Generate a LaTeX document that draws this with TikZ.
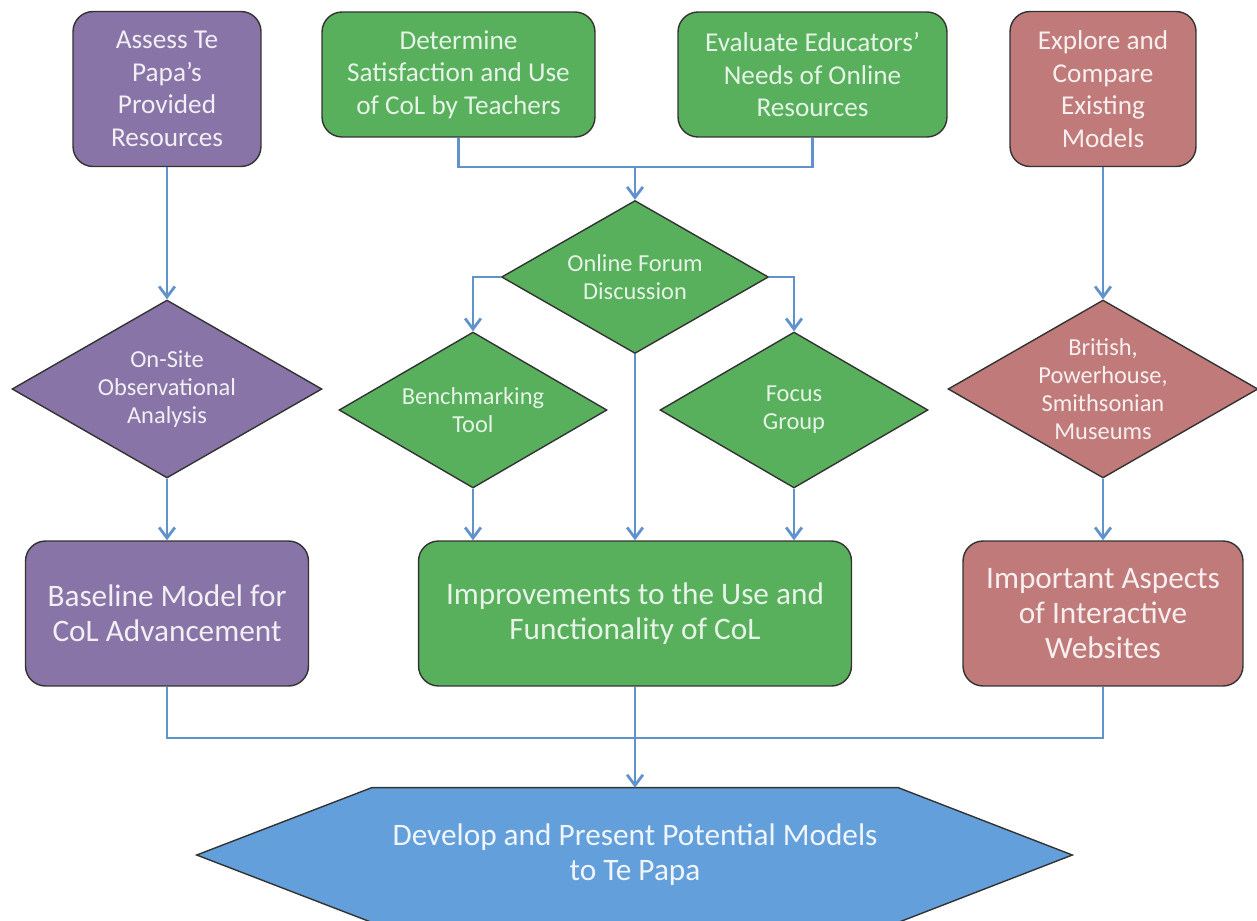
\documentclass[tikz,border=0pt]{standalone}
\usepackage{fontspec}
\setmainfont{Carlito}
\usetikzlibrary{calc,shapes.geometric,arrows.meta}
\definecolor{purp}{RGB}{136,116,166}
\definecolor{grn}{RGB}{88,176,92}
\definecolor{rd}{RGB}{192,122,122}
\definecolor{hexblue}{RGB}{99,159,219}
\definecolor{linkblue}{RGB}{96,146,206}
\begin{document}
\begin{tikzpicture}[x=0.02cm,y=-0.02cm,
		box/.style={draw=black!80,line width=0.8pt,rounded corners=0.4cm,align=center,inner sep=0pt,font=\fontsize{15.5}{18.5}\selectfont},
		bigbox/.style={box,font=\fontsize{17.8}{20}\selectfont},
		dia/.style={draw=black!80,line width=0.8pt,diamond,aspect=1.74,align=center,inner sep=0pt,font=\fontsize{13.9}{16}\selectfont},
		pu/.style={fill=purp,text=purp!12!white},
		gr/.style={fill=grn,text=grn!15!white},
		re/.style={fill=rd,text=rd!12!white},
		link/.style={draw=linkblue,line width=1.6pt},
		arr/.style={link,-{Straight Barb[length=6pt,width=9pt]}}]
				\useasboundingbox (0,0) rectangle (1257,920);
				
				\node[box,pu,minimum width=3.76cm,minimum height=3.1cm] (assess) at (167,89) {Assess Te\\Papa’s\\Provided\\Resources};
				\node[box,gr,minimum width=5.46cm,minimum height=2.5cm] (determine) at (458.5,74.5) {Determine\\Satisfaction and Use\\of CoL by Teachers};
				\node[box,gr,minimum width=5.38cm,minimum height=2.5cm] (evaluate) at (812.5,74.5) {Evaluate Educators’\\Needs of Online\\Resources};
				\node[box,re,minimum width=3.72cm,minimum height=3.1cm] (explore) at (1103,89) {Explore and\\Compare\\Existing\\Models};
				
				\node[dia,pu,minimum width=6.2cm,minimum height=3.56cm] (onsite) at (167,389) {On-Site\\Observational\\Analysis};
				\node[dia,gr,minimum width=5.34cm,minimum height=3.06cm] (forum) at (635,277) {Online Forum\\Discussion};
				\node[dia,gr,minimum width=5.36cm,minimum height=3.12cm] (bench) at (473,410) {Benchmarking\\Tool};
				\node[dia,gr,minimum width=5.36cm,minimum height=3.12cm] (focus) at (794,410) {Focus\\Group};
				\node[dia,re,minimum width=6.2cm,minimum height=3.56cm] (british) at (1103,389) {British,\\Powerhouse,\\Smithsonian\\Museums};
				
				\node[bigbox,pu,minimum width=5.66cm,minimum height=2.9cm] (baseline) at (167,613.5) {Baseline Model for\\CoL Advancement};
				\node[bigbox,gr,minimum width=8.66cm,minimum height=2.9cm] (improve) at (635,613.5) {Improvements to the Use and\\Functionality of CoL};
				\node[bigbox,re,minimum width=5.6cm,minimum height=2.9cm] (aspects) at (1103,613.5) {Important Aspects\\of Interactive\\Websites};
				
				\node[minimum width=10.52cm,minimum height=2.68cm,inner sep=0pt] (develop) at (635,855) {};
				\draw[draw=black!80,line width=0.8pt,fill=hexblue] (develop.north west) -- (develop.north east) -- ($(develop.east)+(174,0)$) -- (develop.south east) -- (develop.south west) -- ($(develop.west)+(-175,0)$) -- cycle;
				\node[align=center,text=hexblue!10!white,font=\fontsize{17.8}{20}\selectfont] at (develop) {Develop and Present Potential Models\\to Te Papa};
				
				\coordinate (topjoin) at (635,167);
				\coordinate (botjoin) at (635,738);
				
				\draw[arr] (assess.south) -- (onsite.north);
				\draw[arr] (onsite.south) -- (baseline.north);
				\draw[link] (determine.south) |- (topjoin) -| (evaluate.south);
				\draw[arr] (topjoin) -- (forum.north);
				\draw[arr] (forum.west) -| (bench.north);
				\draw[arr] (forum.east) -| (focus.north);
				\draw[arr] (forum.south) -- (improve.north);
				\draw[arr] (bench.south) -- (bench.south |- improve.north);
				\draw[arr] (focus.south) -- (focus.south |- improve.north);
				\draw[arr] (explore.south) -- (british.north);
				\draw[arr] (british.south) -- (aspects.north);
				\draw[link] (baseline.south) |- (botjoin) -| (aspects.south);
				\draw[link] (improve.south) -- (botjoin);
				\draw[arr] (botjoin) -- (develop.north);
			\end{tikzpicture}
\end{document}
